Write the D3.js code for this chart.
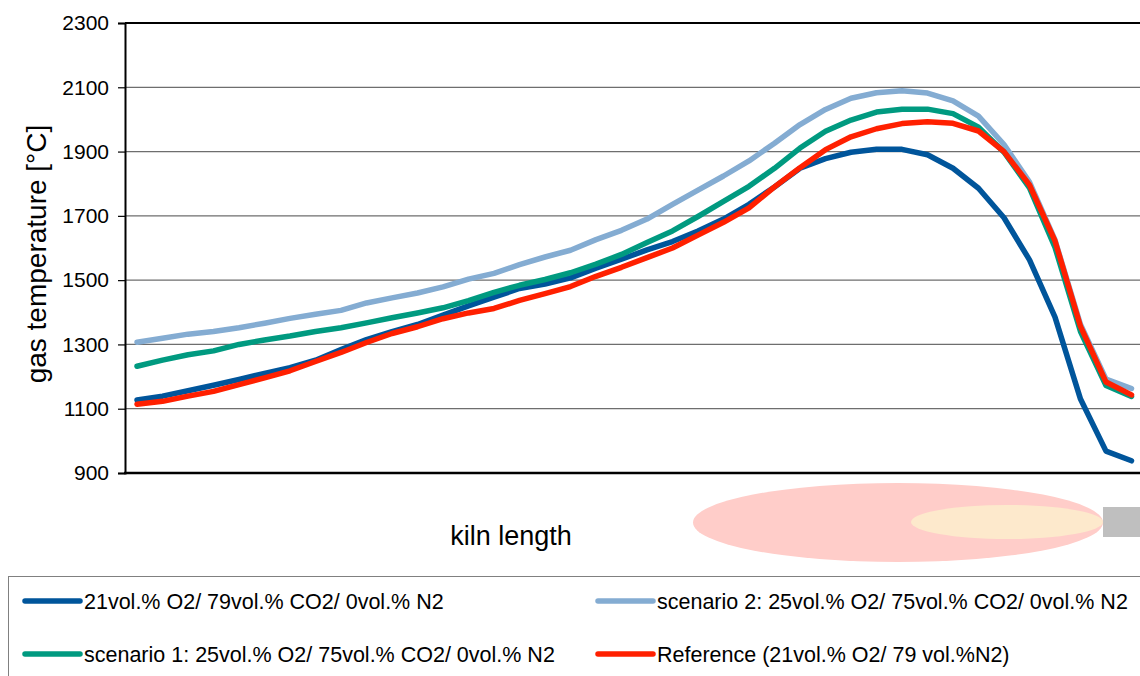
<!DOCTYPE html>
<html><head><meta charset="utf-8">
<script src="https://cdn.jsdelivr.net/npm/d3@7"></script>
<style>body{margin:0;background:#fff}svg{display:block;font-family:"Liberation Sans",Arial,sans-serif}</style>
</head><body>
<svg id="c" width="1140" height="676"></svg>
<script>
const positions = d3.range(40);
const yTicks = [900, 1100, 1300, 1500, 1700, 1900, 2100, 2300];
const seriesNames = [
  "21vol.% O2/ 79vol.% CO2/ 0vol.% N2",
  "scenario 2: 25vol.% O2/ 75vol.% CO2/ 0vol.% N2",
  "scenario 1: 25vol.% O2/ 75vol.% CO2/ 0vol.% N2",
  "Reference (21vol.% O2/ 79 vol.%N2)"
];
const seriesColors = ["#00559b", "#84acd2", "#009a80", "#ff2000"];
const o2co2_21 = [1127,1139,1156,1173,1191,1210,1228,1251,1284,1315,1340,1362,1391,1420,1447,1474,1488,1507,1537,1565,1594,1620,1653,1690,1736,1790,1848,1878,1898,1907,1907,1890,1848,1786,1694,1563,1385,1130,968,938];
const scenario2 = [1307,1319,1332,1340,1352,1366,1381,1394,1406,1429,1445,1460,1479,1503,1521,1548,1572,1593,1626,1655,1690,1736,1780,1824,1871,1926,1984,2031,2066,2083,2089,2082,2058,2010,1922,1805,1625,1362,1192,1163];
const scenario1 = [1232,1251,1268,1280,1300,1314,1326,1340,1352,1367,1383,1398,1414,1436,1462,1484,1502,1523,1550,1580,1617,1653,1698,1745,1792,1848,1911,1963,1998,2023,2032,2032,2018,1976,1898,1787,1602,1340,1172,1138];
const reference = [1114,1123,1139,1154,1175,1196,1218,1247,1275,1306,1334,1355,1380,1398,1412,1437,1458,1480,1512,1540,1570,1600,1640,1680,1725,1790,1850,1906,1946,1971,1987,1993,1988,1964,1900,1796,1622,1356,1183,1143];
const seriesValues = [o2co2_21, scenario2, scenario1, reference];

const svg = d3.select("#c");
const x = d3.scalePoint().domain(positions).range([137, 1131.5]);
const y = d3.scaleLinear().domain([900, 2300]).range([473, 23]);

// gridlines
svg.append("g").selectAll("line").data(yTicks.slice(1, -1)).join("line")
  .attr("x1", 125).attr("x2", 1140).attr("y1", d => y(d)).attr("y2", d => y(d))
  .attr("stroke", "#6e6e6e").attr("stroke-width", 1.2);

// top border
svg.append("line").attr("x1", 125).attr("x2", 1140).attr("y1", y(2300)).attr("y2", y(2300))
  .attr("stroke", "#000").attr("stroke-width", 2);

// y axis
const ya = svg.append("g").attr("transform", "translate(125,0)")
  .call(d3.axisLeft(y).tickValues(yTicks).tickSize(7).tickPadding(9).tickFormat(d3.format("d")));
ya.select(".domain").attr("stroke", "#000").attr("stroke-width", 2);
ya.selectAll(".tick line").attr("stroke", "#000").attr("stroke-width", 1.2);
ya.selectAll("text").attr("font-size", 21).attr("fill", "#000").attr("font-family", "Liberation Sans, Arial, sans-serif");

// bottom axis line
svg.append("line").attr("x1", 124).attr("x2", 1140).attr("y1", y(900)).attr("y2", y(900))
  .attr("stroke", "#000").attr("stroke-width", 2.5);

// series
const line = d3.line().x((d, i) => x(i)).y(d => y(d));
seriesValues.forEach((vals, k) => {
  svg.append("path").datum(vals).attr("d", line)
    .attr("fill", "none").attr("stroke", seriesColors[k]).attr("stroke-width", 5.5)
    .attr("stroke-linejoin", "round").attr("stroke-linecap", "round");
});

// axis titles
svg.append("text").attr("transform", "translate(46,254) rotate(-90)").attr("text-anchor", "middle")
  .attr("font-size", 28).text("gas temperature [°C]");
svg.append("text").attr("x", 511).attr("y", 545).attr("text-anchor", "middle")
  .attr("font-size", 27).text("kiln length");

// flame sketch
svg.append("ellipse").attr("cx", 898).attr("cy", 522.5).attr("rx", 205).attr("ry", 39.5).attr("fill", "#ffcdc9");
svg.append("ellipse").attr("cx", 1007).attr("cy", 522).attr("rx", 96).attr("ry", 17).attr("fill", "#fde9cc");
svg.append("rect").attr("x", 1103).attr("y", 507).attr("width", 40).attr("height", 30).attr("fill", "#bfbfbf");

// legend
svg.append("rect").attr("x", 8.5).attr("y", 576.5).attr("width", 1140).attr("height", 110)
  .attr("fill", "#fff").attr("stroke", "#808080").attr("stroke-width", 1);
const legPos = [[25, 601], [598, 601], [25, 654], [598, 654]];
seriesNames.forEach((name, k) => {
  const [lx, ly] = legPos[k];
  svg.append("line").attr("x1", lx).attr("x2", lx + 55).attr("y1", ly).attr("y2", ly)
    .attr("stroke", seriesColors[k]).attr("stroke-width", 5.5).attr("stroke-linecap", "round");
  svg.append("text").attr("x", lx + 59).attr("y", ly + 8).attr("font-size", 21.5).text(name);
});
</script>
</body></html>
